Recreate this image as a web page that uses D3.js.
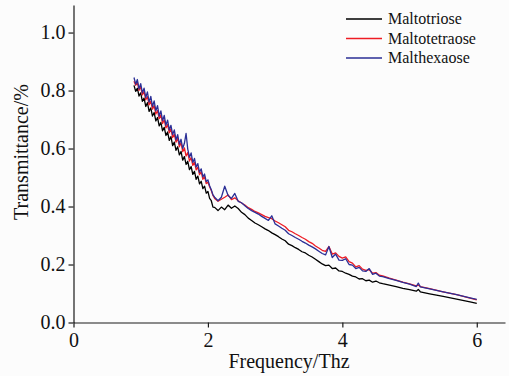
<!DOCTYPE html>
<html>
<head>
<meta charset="utf-8">
<script src="https://cdn.jsdelivr.net/npm/d3@7"></script>
<style>
  body { margin: 0; background: #fcfcfc; }
  svg { display: block; }
  .axis path, .axis line { stroke: #1a1a1a; stroke-width: 1.2; }
  text { font-family: "Liberation Serif", "Times New Roman", serif; fill: #111; }
</style>
</head>
<body>
<svg id="chart" width="509" height="376"></svg>
<script>
// frequency grid (THz)
const freq = [
  0.900,0.925,0.950,0.975,1.000,1.025,1.050,1.075,1.100,1.125,1.150,1.175,1.200,1.225,1.250,1.275,
  1.300,1.325,1.350,1.375,1.400,1.425,1.450,1.475,1.500,1.525,1.550,1.575,1.600,1.625,1.650,1.675,
  1.700,1.725,1.750,1.775,1.800,1.825,1.850,1.875,1.900,1.925,1.950,1.975,2.000,2.025,2.050,2.075,2.100,
  2.15,2.20,2.25,2.30,2.35,2.40,2.45,2.50,2.55,2.60,2.65,2.70,2.75,2.80,2.85,2.90,2.95,3.00,
  3.05,3.10,3.15,3.20,3.25,3.30,3.35,3.40,3.45,3.50,3.55,3.60,3.65,3.70,3.75,3.80,3.85,3.90,
  3.95,4.00,4.05,4.10,4.15,4.20,4.25,4.30,4.35,4.40,4.45,4.50,4.55,4.60,
  4.70,4.80,4.90,5.00,5.10,5.13,5.16,5.30,5.50,5.70,5.90,6.00
];

const maltotriose = [
  0.818,0.797,0.808,0.781,0.792,0.763,0.774,0.745,0.758,0.728,0.740,0.712,0.724,0.695,0.707,0.678,
  0.690,0.661,0.673,0.645,0.657,0.628,0.641,0.610,0.622,0.594,0.606,0.578,0.590,0.560,0.572,0.545,
  0.556,0.527,0.538,0.511,0.521,0.494,0.505,0.478,0.487,0.462,0.470,0.446,0.452,0.428,0.420,0.398,0.397,
  0.386,0.398,0.389,0.405,0.394,0.402,0.393,0.380,0.372,0.360,0.352,0.343,0.337,0.330,0.323,0.317,0.309,0.303,
  0.296,0.288,0.282,0.270,0.265,0.258,0.252,0.244,0.240,0.232,0.226,0.218,0.210,0.202,0.196,0.198,0.186,0.188,
  0.178,0.176,0.170,0.166,0.160,0.157,0.150,0.151,0.144,0.146,0.139,0.143,0.137,0.134,
  0.129,0.124,0.118,0.113,0.108,0.114,0.106,0.099,0.090,0.081,0.071,0.066
];

const maltotetraose = [
  0.832,0.818,0.829,0.801,0.812,0.785,0.797,0.768,0.779,0.751,0.763,0.736,0.748,0.719,0.731,0.703,
  0.716,0.686,0.699,0.671,0.683,0.654,0.668,0.638,0.650,0.622,0.636,0.606,0.620,0.589,0.602,0.574,
  0.586,0.557,0.569,0.542,0.553,0.526,0.536,0.510,0.520,0.494,0.503,0.479,0.484,0.468,0.455,0.438,0.428,
  0.418,0.425,0.432,0.440,0.424,0.430,0.420,0.412,0.405,0.396,0.390,0.383,0.378,0.372,0.366,0.362,0.358,0.350,
  0.344,0.337,0.330,0.318,0.313,0.306,0.300,0.293,0.287,0.279,0.273,0.264,0.257,0.249,0.245,0.262,0.236,0.240,
  0.228,0.222,0.226,0.210,0.205,0.192,0.196,0.184,0.180,0.182,0.170,0.172,0.163,0.161,
  0.153,0.146,0.139,0.133,0.126,0.129,0.124,0.117,0.106,0.096,0.084,0.078
];

const malthexaose = [
  0.845,0.822,0.838,0.806,0.824,0.792,0.808,0.776,0.795,0.760,0.780,0.745,0.764,0.730,0.748,0.712,
  0.730,0.696,0.714,0.680,0.698,0.664,0.680,0.648,0.664,0.630,0.648,0.615,0.632,0.600,0.618,0.652,
  0.598,0.570,0.585,0.552,0.566,0.536,0.548,0.518,0.530,0.502,0.512,0.486,0.492,0.472,0.458,0.440,0.432,
  0.420,0.432,0.470,0.438,0.428,0.445,0.418,0.413,0.403,0.393,0.386,0.380,0.374,0.366,0.359,0.352,0.368,0.340,
  0.333,0.325,0.318,0.306,0.300,0.293,0.287,0.280,0.274,0.267,0.261,0.254,0.246,0.238,0.233,0.262,0.224,0.236,
  0.215,0.214,0.220,0.200,0.198,0.186,0.190,0.178,0.176,0.186,0.166,0.170,0.160,0.158,
  0.151,0.145,0.138,0.132,0.124,0.136,0.123,0.116,0.106,0.096,0.085,0.080
];

const seriesNames = ["Maltotriose", "Maltotetraose", "Malthexaose"];
const seriesColors = ["#000000", "#ee1c24", "#2b2f96"];
const xTicks = [0, 2, 4, 6];
const yTicks = [0.0, 0.2, 0.4, 0.6, 0.8, 1.0];

const svg = d3.select("#chart");
const margin = { top: 5, right: 4, bottom: 53.5, left: 73.5 };
const width = 509 - margin.left - margin.right;
const height = 376 - margin.top - margin.bottom;

svg.append("rect").attr("width", 509).attr("height", 376).attr("fill", "#fcfcfc");

const g = svg.append("g")
  .attr("transform", "translate(" + margin.left + "," + margin.top + ")");

const x = d3.scaleLinear().domain([0, 6.42]).range([0, width]);
const y = d3.scaleLinear().domain([0, 1.095]).range([height, 0]);

const xAxis = g.append("g")
  .attr("class", "axis")
  .attr("transform", "translate(0," + height + ")")
  .call(d3.axisBottom(x).tickValues(xTicks).tickFormat(d3.format("d")).tickSize(5).tickSizeOuter(0).tickPadding(5));

const yAxis = g.append("g")
  .attr("class", "axis")
  .call(d3.axisLeft(y).tickValues(yTicks).tickFormat(d3.format(".1f")).tickSize(5).tickSizeOuter(0).tickPadding(3));

[xAxis, yAxis].forEach(function(ax) {
  ax.attr("font-family", null).attr("font-size", null);
  ax.selectAll("text")
    .style("font-family", "'Liberation Serif', 'Times New Roman', serif")
    .style("font-size", "20px")
    .attr("fill", "#111");
});

const table = [maltotriose, maltotetraose, malthexaose];
const line = d3.line()
  .x(function(d, i) { return x(freq[i]); })
  .y(function(d) { return y(d); });

// draw black first, blue on top
table.forEach(function(vals, k) {
  g.append("path")
    .attr("fill", "none")
    .attr("stroke", seriesColors[k])
    .attr("stroke-width", 1.3)
    .attr("stroke-linejoin", "round")
    .attr("d", line(vals));
});

// axis titles
svg.append("text")
  .attr("x", 289)
  .attr("y", 368)
  .attr("text-anchor", "middle")
  .style("font-size", "20px")
  .text("Frequency/Thz");

svg.append("text")
  .attr("transform", "translate(28,152) rotate(-90)")
  .attr("text-anchor", "middle")
  .style("font-size", "20px")
  .text("Transmittance/%");

// legend
const legend = svg.append("g");
seriesNames.forEach(function(name, k) {
  const ly = 19 + k * 19.5;
  legend.append("line")
    .attr("x1", 346).attr("x2", 382)
    .attr("y1", ly).attr("y2", ly)
    .attr("stroke", seriesColors[k])
    .attr("stroke-width", 1.3);
  legend.append("text")
    .attr("x", 388)
    .attr("y", ly)
    .attr("dy", "0.33em")
    .style("font-size", "16px")
    .text(name);
});
</script>
</body>
</html>
